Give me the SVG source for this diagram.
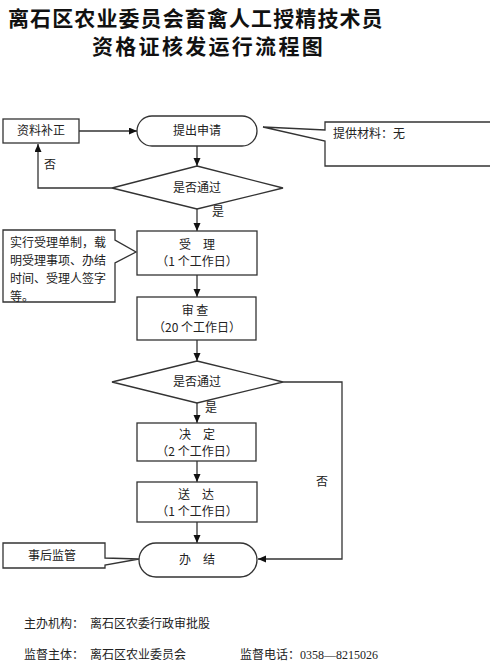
<svg xmlns="http://www.w3.org/2000/svg" width="490" height="667" viewBox="0 0 490 667">
<style>
.shape{fill:#fff;stroke:#333;stroke-width:1.3}
.line{fill:none;stroke:#333;stroke-width:1.3}
.t{font-family:"Noto Sans CJK SC","Liberation Sans",sans-serif;font-size:12px;fill:#222}
.c{text-anchor:middle}
.title{font-family:"Noto Sans CJK SC",sans-serif;font-size:21px;font-weight:700;fill:#111}
.foot{font-family:"Liberation Serif","Noto Sans CJK SC",serif;font-size:12px;fill:#222}
</style>
<defs>
<marker id="arr" markerUnits="userSpaceOnUse" markerWidth="9" markerHeight="8" refX="8" refY="3.5" orient="auto">
<path d="M0,0 L8,3.5 L0,7 z" fill="#111"/>
</marker>
</defs>
<rect width="490" height="667" fill="#fff"/>
<g id="title">
<text class="title" x="8" y="26" letter-spacing="1.1">离石区农业委员会畜禽人工授精技术员</text>
<text class="title" x="92" y="54" letter-spacing="2.3">资格证核发运行流程图</text>
</g>
<g id="connectors">
<line class="line" x1="79" y1="131" x2="137" y2="131" marker-end="url(#arr)"/>
<line class="line" x1="197" y1="146" x2="197" y2="166" marker-end="url(#arr)"/>
<polyline class="line" points="112,188 38,188 38,144" marker-end="url(#arr)"/>
<text class="t" x="44" y="169">否</text>
<line class="line" x1="197" y1="209" x2="197" y2="231" marker-end="url(#arr)"/>
<text class="t" x="212" y="216">是</text>
<line class="line" x1="197" y1="275" x2="197" y2="297" marker-end="url(#arr)"/>
<line class="line" x1="197" y1="340" x2="197" y2="361" marker-end="url(#arr)"/>
<line class="line" x1="197" y1="403" x2="197" y2="423" marker-end="url(#arr)"/>
<text class="t" x="205" y="412">是</text>
<line class="line" x1="197" y1="461" x2="197" y2="482" marker-end="url(#arr)"/>
<line class="line" x1="197" y1="522" x2="197" y2="543" marker-end="url(#arr)"/>
<polyline class="line" points="283,382 342,382 342,559 258,559" marker-end="url(#arr)"/>
<text class="t" x="316" y="486">否</text>
</g>
<g id="n-bzzl">
<rect class="shape" x="3" y="119" width="76" height="24"/>
<text class="t c" x="41" y="135">资料补正</text>
</g>
<g id="n-tcsq">
<rect class="shape" x="137" y="116" width="120" height="30" rx="15"/>
<text class="t c" x="197" y="135">提出申请</text>
</g>
<g id="n-tgcl">
<polygon class="shape" points="495,122 325,122 325,130 263,127 325,141 325,166 495,166"/>
<text class="t" x="333" y="138">提供材料：无</text>
</g>
<g id="n-d1">
<polygon class="shape" points="197,166 283,188 197,209 112,188"/>
<text class="t c" x="197" y="192">是否通过</text>
</g>
<g id="n-note1">
<polygon class="shape" points="3,230 115,230 115,240 136,252 115,263 115,302 3,302"/>
<text class="t" x="10" y="247">实行受理单制，载</text>
<text class="t" x="10" y="265">明受理事项、办结</text>
<text class="t" x="10" y="283">时间、受理人签字</text>
<text class="t" x="10" y="301">等。</text>
</g>
<g id="n-sl">
<rect class="shape" x="137" y="231" width="120" height="44"/>
<text class="t c" x="197" y="249">受　理</text>
<text class="t c" x="197" y="266">（1 个工作日）</text>
</g>
<g id="n-sc">
<rect class="shape" x="137" y="297" width="119" height="43"/>
<text class="t c" x="195" y="315">审 查</text>
<text class="t c" x="197" y="332">（20 个工作日）</text>
</g>
<g id="n-d2">
<polygon class="shape" points="197,361 283,382 197,403 112,382"/>
<text class="t c" x="197" y="386">是否通过</text>
</g>
<g id="n-jd">
<rect class="shape" x="137" y="423" width="119" height="38"/>
<text class="t c" x="197" y="439">决　定</text>
<text class="t c" x="197" y="456">（2 个工作日）</text>
</g>
<g id="n-sd">
<rect class="shape" x="137" y="482" width="120" height="40"/>
<text class="t c" x="196" y="499">送　达</text>
<text class="t c" x="197" y="516">（1 个工作日）</text>
</g>
<g id="n-bj">
<rect class="shape" x="139" y="543" width="118" height="34" rx="17"/>
<text class="t c" x="197" y="564">办　结</text>
</g>
<g id="n-shjg">
<polygon class="shape" points="3,543 105,543 105,558 139,559 105,565 105,568 3,568"/>
<text class="t c" x="52" y="560">事后监管</text>
</g>
<g id="footer">
<text class="foot" x="24" y="628">主办机构：</text>
<text class="foot" x="90" y="628">离石区农委行政审批股</text>
<text class="foot" x="24" y="659">监督主体：</text>
<text class="foot" x="90" y="659">离石区农业委员会</text>
<text class="foot" x="240" y="659">监督电话：0358—8215026</text>
</g>
</svg>
